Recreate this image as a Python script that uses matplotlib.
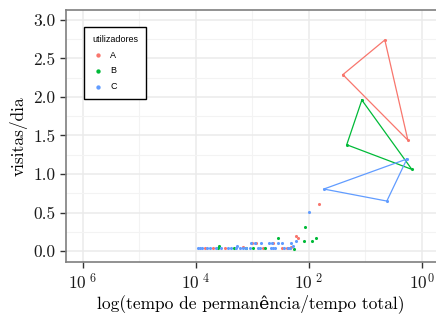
import matplotlib
matplotlib.use("Agg")
import matplotlib.pyplot as plt
from matplotlib.ticker import FixedLocator, FixedFormatter, NullFormatter

plt.rcParams['font.family'] = ['cmr10', 'DejaVu Serif']
plt.rcParams['mathtext.fontset'] = 'cm'
plt.rcParams['axes.unicode_minus'] = False
plt.rcParams['axes.formatter.use_mathtext'] = True

# dados: pontos por utilizador
a_x = [1.44e-4, 2.0e-4, 3.25e-4, 6.8e-4, 9.8e-4, 1.15e-3, 1.54e-3, 2.3e-3,
       3.4e-3, 4.1e-3, 4.6e-3, 4.8e-3, 5.9e-3, 6.4e-3, 0.0151]
a_y = [0.04, 0.04, 0.04, 0.05, 0.10, 0.10, 0.04, 0.10,
       0.04, 0.04, 0.04, 0.05, 0.19, 0.17, 0.61]
b_x = [2.5e-4, 2.6e-4, 4.7e-4, 7.6e-4, 1.02e-3, 1.66e-3, 2.8e-3, 5.4e-3,
       8.1e-3, 8.5e-3, 0.0113, 0.0133]
b_y = [0.04, 0.07, 0.04, 0.04, 0.04, 0.04, 0.17, 0.03,
       0.13, 0.31, 0.13, 0.17]
c_x = [1.1e-4, 1.18e-4, 1.3e-4, 1.6e-4, 1.8e-4, 2.25e-4, 2.75e-4, 3.7e-4,
       4.2e-4, 5.1e-4, 6.0e-4, 6.8e-4, 7.6e-4, 9.1e-4, 1.25e-3, 1.35e-3,
       2.1e-3, 2.3e-3, 2.5e-3, 3.7e-3, 4.2e-3, 4.6e-3,
       5.3e-4, 9.5e-4, 1.12e-3, 1.4e-3, 2.0e-3, 2.2e-3, 2.9e-3, 3.3e-3,
       4.8e-3, 5.9e-3, 5.2e-3, 0.0100]
c_y = [0.04, 0.04, 0.04, 0.04, 0.04, 0.04, 0.04, 0.04,
       0.04, 0.04, 0.04, 0.04, 0.04, 0.04, 0.04, 0.04,
       0.04, 0.04, 0.04, 0.04, 0.04, 0.04,
       0.07, 0.10, 0.10, 0.10, 0.10, 0.10, 0.10, 0.10,
       0.10, 0.13, 0.07, 0.51]

# triangulos (vertices)
tri_a_x = [0.040, 0.221, 0.565]
tri_a_y = [2.29, 2.74, 1.44]
tri_b_x = [0.0867, 0.0468, 0.665]
tri_b_y = [1.96, 1.38, 1.06]
tri_c_x = [0.543, 0.0184, 0.240]
tri_c_y = [1.195, 0.805, 0.649]

users = ['A', 'B', 'C']
colors = ['#F8766D', '#00BA38', '#619CFF']

fig = plt.figure(figsize=(4.36, 3.2), dpi=100)
ax = fig.add_axes([0.151, 0.181, 0.849, 0.788])

groups = [(a_x, a_y, tri_a_x, tri_a_y),
          (b_x, b_y, tri_b_x, tri_b_y),
          (c_x, c_y, tri_c_x, tri_c_y)]
for (px, py, tx, ty), col, lab in zip(groups, colors, users):
    ax.scatter(px + tx, py + ty, s=5, color=col, linewidths=0, label=lab, zorder=3)
    ax.plot(tx + tx[:1], ty + ty[:1], color=col, lw=0.9, zorder=3)

ax.set_xscale('log')
ax.set_xlim(10**-6.3, 10**0.25)
ax.set_ylim(-0.143, 3.13)

ax.xaxis.set_major_locator(FixedLocator([1e-6, 1e-4, 1e-2, 1e0]))
ax.xaxis.set_major_formatter(FixedFormatter([r'$10^{\ 6}$', r'$10^{\ 4}$', r'$10^{\ 2}$', r'$10^{0}$']))
ax.xaxis.set_minor_locator(FixedLocator([1e-5, 1e-3, 1e-1]))
ax.xaxis.set_minor_formatter(NullFormatter())
ax.set_yticks([0, 0.5, 1.0, 1.5, 2.0, 2.5, 3.0])
ax.set_yticklabels(['0.0', '0.5', '1.0', '1.5', '2.0', '2.5', '3.0'])
ax.set_yticks([0.25, 0.75, 1.25, 1.75, 2.25, 2.75], minor=True)

ax.grid(True, which='major', color='#EBEBEB', lw=1.1, zorder=0)
ax.grid(True, which='minor', color='#F3F3F3', lw=0.8, zorder=0)
ax.set_axisbelow(True)

for s in ['left', 'bottom', 'top']:
    ax.spines[s].set_color('#7f7f7f')
    ax.spines[s].set_linewidth(1.2)
ax.spines['right'].set_visible(False)
ax.tick_params(which='major', direction='out', length=4, width=1, color='#333333',
               labelsize=12.5, labelcolor='#1a1a1a')
ax.tick_params(which='minor', length=0)

ax.set_xlabel('log(tempo de permanência/tempo total)', fontsize=12.5, labelpad=1)
ax.set_ylabel('visitas/dia', fontsize=12.5, labelpad=4)

leg = ax.legend(title='utilizadores', loc='upper left', bbox_to_anchor=(0.049, 0.933),
                borderaxespad=0, frameon=True, fancybox=False, edgecolor='black',
                framealpha=1, prop={'family': 'Liberation Sans', 'size': 6.5},
                handletextpad=0.7, labelspacing=0.75, borderpad=0.9,
                handlelength=1.3, markerscale=1.4)
leg.get_title().set_fontfamily('Liberation Sans')
leg.get_title().set_fontsize(6.5)
leg.get_frame().set_linewidth(1.0)
leg._legend_box.align = 'left'

fig.savefig('out.png', dpi=100)
